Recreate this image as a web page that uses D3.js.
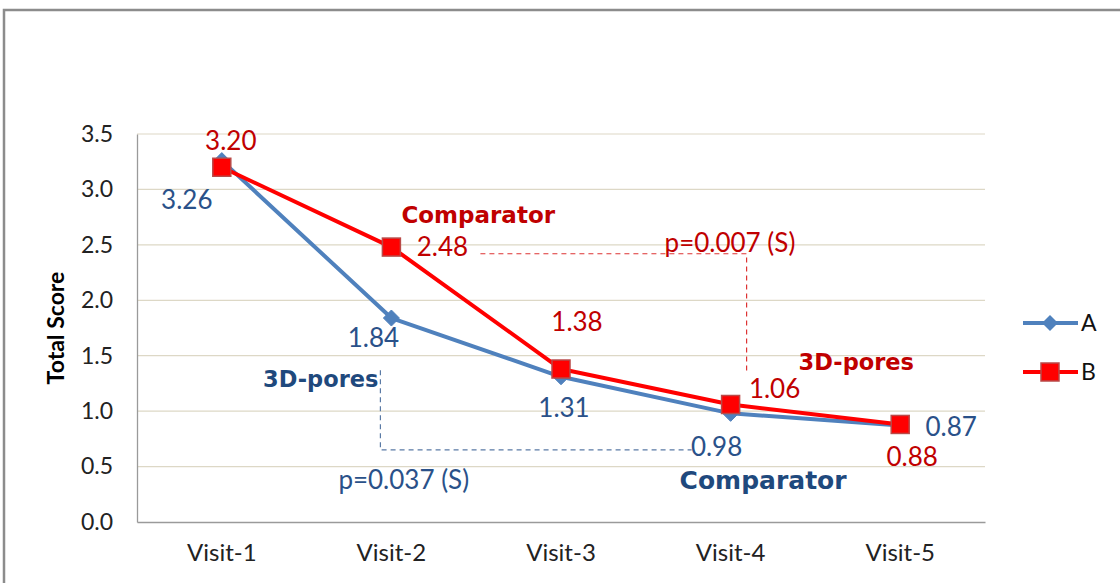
<!DOCTYPE html>
<html><head><meta charset="utf-8">
<script src="https://cdn.jsdelivr.net/npm/d3@7"></script>
<style>body{margin:0;background:#fff}svg{display:block}</style>
</head><body>
<svg id="c" width="1120" height="583"></svg>
<script>
const categories = ["Visit-1","Visit-2","Visit-3","Visit-4","Visit-5"];
const seriesA = [3.26, 1.84, 1.31, 0.98, 0.87];
const seriesB = [3.20, 2.48, 1.38, 1.06, 0.88];
const seriesNames = ["A","B"];
const yTicks = [0.0,0.5,1.0,1.5,2.0,2.5,3.0,3.5];
const yTitle = "Total Score";
// label offsets (dx, dy) from each point
const offA = [[-35,48],[-18,29],[3,40],[-14,43],[51,10]];
const offB = [[9,-17],[51,9],[16,-38],[44,-6],[12,42]];

const svg = d3.select("#c");
const W=1120,H=583;
const m={l:137,r:135,t:134,b:61};
const x = d3.scaleBand().domain(categories).range([m.l, W-m.r]);
const y = d3.scaleLinear().domain([0,3.5]).range([H-m.b, m.t]);
const cx = c => x(c)+x.bandwidth()/2;

// outer frame
svg.append("rect").attr("x",4).attr("y",10).attr("width",1200).attr("height",700)
  .attr("fill","none").attr("stroke","#8c8c8c").attr("stroke-width",2.5);

// gridlines
svg.append("g").selectAll("line").data(yTicks.filter(d=>d>0)).join("line")
  .attr("x1",m.l).attr("x2",W-m.r).attr("y1",d=>y(d)).attr("y2",d=>y(d))
  .attr("stroke","#ddd8c6").attr("stroke-width",1.2);

// axes
const yAx = svg.append("g").attr("transform",`translate(${m.l},0)`)
  .call(d3.axisLeft(y).tickValues(yTicks).tickFormat(d3.format(".1f")).tickSize(0).tickPadding(24));
yAx.select(".domain").attr("stroke","#9a9a9a").attr("stroke-width",1.3);
yAx.selectAll("text").attr("font-family","Lato").attr("font-size",23).attr("fill","#222");

const xAx = svg.append("g").attr("transform",`translate(0,${H-m.b})`)
  .call(d3.axisBottom(x).tickSize(0).tickPadding(22));
xAx.select(".domain").attr("stroke","#9a9a9a").attr("stroke-width",1.3);
xAx.selectAll("text").attr("font-family","Lato").attr("font-size",24).attr("fill","#222");

svg.append("text").attr("transform",`translate(64,${(m.t+H-m.b)/2}) rotate(-90)`)
  .attr("text-anchor","middle").attr("font-family","Lato").attr("font-weight","bold")
  .attr("font-size",23).attr("fill","#000").text(yTitle);

const colA="#4f81bd", colB="#ff0000", txtA="#2a5189", txtB="#c00000";
const line = d3.line().x((d,i)=>cx(categories[i])).y(d=>y(d));

// annotations (behind lines)
const dash = "5,4";
svg.append("path").attr("fill","none").attr("stroke","#d33").attr("stroke-width",1.2).attr("stroke-dasharray",dash)
  .attr("d",`M${cx("Visit-2")+89},${y(2.42)} H${cx("Visit-4")+16} V${y(1.33)}`);
svg.append("path").attr("fill","none").attr("stroke","#5a7aa5").attr("stroke-width",1.2).attr("stroke-dasharray",dash)
  .attr("d",`M${cx("Visit-2")-11},${y(1.37)} V${y(0.65)} H${cx("Visit-4")-39}`);

// lines
svg.append("path").datum(seriesA).attr("d",line).attr("fill","none").attr("stroke",colA).attr("stroke-width",4).attr("stroke-linejoin","round");
svg.append("path").datum(seriesB).attr("d",line).attr("fill","none").attr("stroke",colB).attr("stroke-width",4).attr("stroke-linejoin","round");

// markers
const diamond = (s)=>`M0,${-s} L${s},0 L0,${s} L${-s},0 Z`;
svg.append("g").selectAll("path").data(seriesA).join("path")
  .attr("transform",(d,i)=>`translate(${cx(categories[i])},${y(d)})`)
  .attr("d",diamond(8)).attr("fill",colA).attr("stroke",colA);
svg.append("g").selectAll("rect").data(seriesB).join("rect")
  .attr("x",(d,i)=>cx(categories[i])-9).attr("y",d=>y(d)-9).attr("width",18).attr("height",18)
  .attr("fill",colB).attr("stroke","#b94a48").attr("stroke-width",1.5);

// data labels
const fmt=d3.format(".2f");
svg.append("g").selectAll("text").data(seriesA).join("text")
  .attr("x",(d,i)=>cx(categories[i])+offA[i][0]).attr("y",(d,i)=>y(d)+offA[i][1])
  .attr("text-anchor","middle").attr("font-family","Lato").attr("font-size",26).attr("fill",txtA).text(fmt);
svg.append("g").selectAll("text").data(seriesB).join("text")
  .attr("x",(d,i)=>cx(categories[i])+offB[i][0]).attr("y",(d,i)=>y(d)+offB[i][1])
  .attr("text-anchor","middle").attr("font-family","Lato").attr("font-size",26).attr("fill",txtB).text(fmt);

// text annotations
function ann(t,xx,yy,col,bold,size,anchor){
  svg.append("text").attr("x",xx).attr("y",yy).attr("fill",col)
    .attr("font-family",bold?"DejaVu Sans":"Lato").attr("font-weight",bold?"bold":"normal")
    .attr("font-size",size).attr("text-anchor",anchor||"start").text(t);
}
ann("Comparator", cx("Visit-2")+10, y(2.48)-24, "#c00000", true, 23);
ann("p=0.007 (S)", cx("Visit-4")-66, y(2.48)+5, "#c00000", false, 26);
ann("3D-pores", cx("Visit-4")+68, 370, "#c00000", true, 22.5);
ann("3D-pores", cx("Visit-2")-13, 387, "#1f497d", true, 22.5, "end");
ann("p=0.037 (S)", cx("Visit-2")-53, 489, "#2a5189", false, 26);
ann("Comparator", cx("Visit-4")-51, 489, "#1f497d", true, 25);

// legend
const lg = svg.append("g");
[[seriesNames[0],colA,323],[seriesNames[1],colB,372]].forEach(([n,c,ly],k)=>{
  lg.append("line").attr("x1",1023).attr("x2",1078).attr("y1",ly).attr("y2",ly).attr("stroke",c).attr("stroke-width",4);
  if(k===0) lg.append("path").attr("transform",`translate(1050,${ly})`).attr("d",diamond(8)).attr("fill",c);
  else lg.append("rect").attr("x",1041).attr("y",ly-9).attr("width",18).attr("height",18).attr("fill",c).attr("stroke","#b94a48").attr("stroke-width",1.5);
  lg.append("text").attr("x",1081).attr("y",ly+8).attr("font-family","Lato").attr("font-size",23).attr("fill","#111").text(n);
});
</script>
</body></html>
